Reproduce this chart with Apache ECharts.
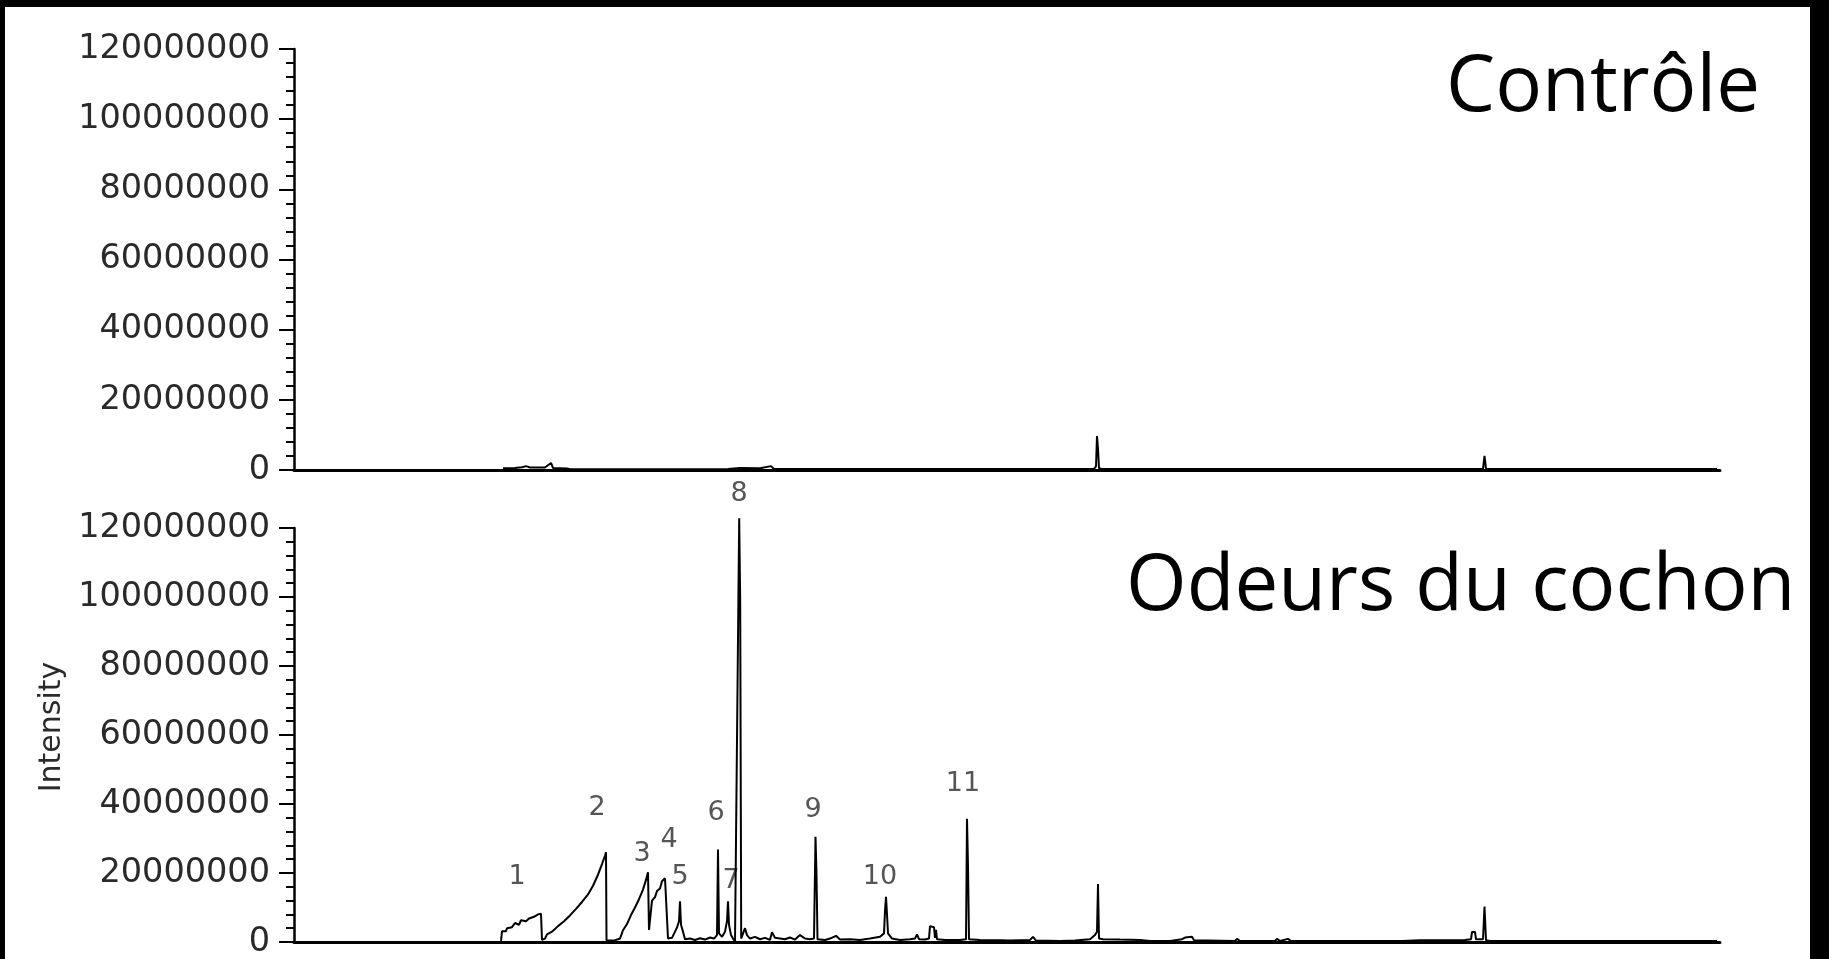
<!DOCTYPE html>
<html>
<head>
<meta charset="utf-8">
<title>Chromatogrammes – Contrôle / Odeurs du cochon</title>
<script src="https://cdn.jsdelivr.net/npm/echarts@6/dist/echarts.min.js"></script>
<style>
  html, body { margin: 0; padding: 0; background: #000; overflow: hidden; }
  #sheet { position: absolute; left: 5px; top: 7px; width: 1805px; height: 952px; background: #fff; }
  #chart { position: absolute; left: 0; top: 0; width: 1829px; height: 959px; }
</style>
</head>
<body>
<div id="sheet"></div>
<div id="chart"></div>
<script>
// Retention time (min) and intensity (millions of counts)
const controlTime = [4.18, 4.42, 4.56, 4.64, 4.72, 5.02, 5.14, 5.18, 5.46, 5.52, 8.68, 8.92, 9.32, 9.54, 9.60,
  16.00, 16.04, 16.06, 16.08, 16.10, 16.16, 23.78, 23.81, 23.84, 28.46];
const controlIntensity = [0.5, 0.6, 0.8, 1.1, 0.7, 0.7, 2.0, 0.6, 0.4, 0.2, 0.3, 0.6, 0.5, 1.1, 0.3,
  0.3, 1.0, 9.7, 6.0, 0.5, 0.3, 0.3, 4.0, 0.3, 0.3];

const pigTime = [4.14, 4.16, 4.24, 4.26, 4.36, 4.42, 4.50, 4.54, 4.64, 4.70, 4.80, 4.88, 4.94,
  4.96, 5.02, 5.06, 5.16, 5.28, 5.40, 5.52, 5.64, 5.76, 5.88, 5.98, 6.08, 6.16, 6.22, 6.24,
  6.25, 6.40, 6.52, 6.58, 6.66, 6.74, 6.82, 6.90, 6.98, 7.04, 7.08,
  7.10, 7.14, 7.16, 7.22, 7.26, 7.32, 7.36, 7.42, 7.46,
  7.48, 7.56, 7.62, 7.66, 7.70, 7.72, 7.74, 7.78, 7.82, 7.92, 8.02, 8.12, 8.22, 8.32, 8.40, 8.46,
  8.48, 8.50, 8.56, 8.62, 8.66, 8.68, 8.70, 8.74, 8.78, 8.82, 8.86,
  8.904, 8.924, 8.944, 8.98, 9.02, 9.06, 9.12, 9.22, 9.32, 9.42, 9.52, 9.56, 9.62, 9.72, 9.82, 9.92,
  10.02, 10.12, 10.22, 10.32, 10.40, 10.43, 10.45, 10.47, 10.62, 10.72, 10.84, 10.92, 11.12, 11.32,
  11.52, 11.72, 11.80, 11.82, 11.84, 11.86, 11.88, 11.96, 12.12, 12.32, 12.42, 12.46, 12.50, 12.62,
  12.70, 12.72, 12.80, 12.82, 12.84, 12.86, 13.02, 13.32, 13.44, 13.46, 13.48, 13.50, 13.72, 14.12,
  14.32, 14.72, 14.78, 14.84, 15.32, 15.62, 15.92, 16.02, 16.06, 16.08, 16.10, 16.18, 16.52, 16.92,
  17.12, 17.52, 17.76, 17.82, 17.96, 18.00, 18.82, 18.86, 18.92, 19.62, 19.66, 19.72, 19.88, 19.94,
  20.44, 20.48, 20.52, 21.20, 21.24, 21.28, 21.62, 21.66, 21.70, 22.08, 22.12, 22.16, 22.52, 23.42,
  23.54, 23.56, 23.62, 23.64, 23.78, 23.81, 23.84, 23.92, 28.46];
const pigIntensity = [0.3, 3.1, 3.1, 4.0, 4.3, 5.5, 5.0, 6.3, 6.0, 6.8, 7.3, 8.0, 8.2,
  0.6, 1.0, 2.2, 3.0, 4.6, 6.0, 7.7, 9.6, 11.6, 13.8, 16.3, 19.5, 22.6, 25.0, 26.0,
  0.5, 0.4, 1.0, 3.4, 5.2, 7.8, 10.0, 12.4, 15.2, 18.0, 20.2,
  3.5, 3.0, 12.0, 13.0, 14.8, 15.5, 17.6, 18.5, 19.0,
  1.0, 1.2, 3.0, 4.2, 6.0, 11.8, 5.0, 3.0, 0.8, 1.0, 0.6, 1.1, 0.7, 1.3, 1.0, 2.0,
  26.8, 2.5, 1.5, 3.0, 6.0, 11.8, 5.0, 2.0, 1.0, 0.2, 0.5,
  122.8, 98.6, 1.0, 0.5, 4.0, 2.0, 1.0, 1.5, 0.8, 1.2, 0.6, 2.8, 1.2, 1.0, 0.8, 1.3,
  0.7, 2.0, 1.0, 0.8, 1.0, 30.5, 19.7, 0.8, 0.6, 1.0, 1.8, 0.7, 0.8, 0.6,
  1.0, 1.5, 2.5, 9.0, 13.1, 8.0, 2.5, 1.0, 0.6, 0.8, 1.0, 2.2, 0.8, 0.7,
  1.0, 4.6, 4.3, 1.2, 3.5, 0.8, 0.6, 0.6, 0.8, 35.7, 22.0, 0.8, 0.6, 0.5,
  0.4, 0.6, 1.5, 0.4, 0.3, 0.4, 0.8, 2.0, 3.0, 16.8, 1.0, 0.8, 0.7, 0.6,
  0.3, 0.3, 0.8, 1.3, 1.5, 0.5, 0.3, 0.9, 0.3, 0.3, 0.9, 0.3, 0.9, 0.3,
  0.3, 0.8, 0.3, 0.3, 0.7, 0.3, 0.3, 0.7, 0.3, 0.3, 0.8, 0.3, 0.5, 0.6,
  0.8, 2.9, 2.9, 0.8, 0.8, 10.3, 0.5, 0.3, 0.3];

// Numbered peaks: label text and where it sits (time, intensity)
const peakNames = ['1', '2', '3', '4', '5', '6', '7', '8', '9', '10', '11'];
const peakLabelTime = [4.46, 6.06, 6.96, 7.50, 7.72, 8.44, 8.74, 8.90, 10.38, 11.72, 13.38];
const peakLabelIntensity = [18.8, 38.8, 25.4, 29.6, 18.8, 37.3, 17.7, 130.0, 38.2, 18.8, 45.9];

const yTickLabels = ['0', '20000000', '40000000', '60000000', '80000000', '100000000', '120000000'];
const panelTitles = ['Contrôle', 'Odeurs du cochon'];

const zip = (xs, ys) => xs.map((x, i) => [x, ys[i]]);

const numFont = 'DejaVu Sans';
const tickColor = '#2a2a2a';

function yAxisFor(gridIndex, withName) {
  return {
    type: 'value', gridIndex, min: 0, max: 120, interval: 20,
    name: withName ? 'Intensity' : '',
    nameLocation: 'middle', nameRotate: 90, nameGap: 224,
    nameTextStyle: { fontFamily: numFont, fontSize: 30, color: tickColor, padding: [0, 0, 0, 16] },
    axisLine: { show: true, lineStyle: { color: '#000', width: 2.5 } },
    axisTick: { show: true, length: 15, lineStyle: { color: '#000', width: 2 } },
    minorTick: { show: true, splitNumber: 5, length: 8, lineStyle: { color: '#000', width: 2 } },
    splitLine: { show: false },
    axisLabel: {
      margin: 24, fontFamily: numFont, fontSize: 33.5, color: tickColor,
      formatter: v => yTickLabels[Math.round(v / 20)]
    }
  };
}

function xAxisFor(gridIndex) {
  return {
    type: 'value', gridIndex, min: 0, max: 28.52,
    axisLine: { show: true, onZero: false, lineStyle: { color: '#000', width: 3 } },
    axisTick: { show: false }, axisLabel: { show: false }, splitLine: { show: false }
  };
}

const chart = echarts.init(document.getElementById('chart'), null, { renderer: 'canvas' });
chart.setOption({
  animation: false,
  backgroundColor: 'transparent',
  grid: [
    { left: 294, top: 49, width: 1426, height: 421 },
    { left: 294, top: 528, width: 1426, height: 421 }
  ],
  xAxis: [xAxisFor(0), xAxisFor(1)],
  yAxis: [yAxisFor(0, false), yAxisFor(1, true)],
  graphic: [
    { type: 'text', left: 1446, top: 50,
      style: { text: panelTitles[0], fontFamily: 'Open Sans', fontSize: 78, fill: '#000' } },
    { type: 'text', left: 1126, top: 549,
      style: { text: panelTitles[1], fontFamily: 'Open Sans', fontSize: 78, fill: '#000' } }
  ],
  series: [
    {
      type: 'line', xAxisIndex: 0, yAxisIndex: 0, data: zip(controlTime, controlIntensity),
      showSymbol: false, clip: false, lineStyle: { color: '#000', width: 2 }
    },
    {
      type: 'line', xAxisIndex: 1, yAxisIndex: 1, data: zip(pigTime, pigIntensity),
      showSymbol: false, clip: false, lineStyle: { color: '#000', width: 2 }
    },
    {
      type: 'scatter', xAxisIndex: 1, yAxisIndex: 1, symbolSize: 0, clip: false,
      data: peakNames.map((n, i) => ({ name: n, value: [peakLabelTime[i], peakLabelIntensity[i]] })),
      label: {
        show: true, position: 'inside', formatter: p => p.name,
        fontFamily: numFont, fontSize: 27, color: tickColor
      }
    }
  ]
});
</script>
</body>
</html>
